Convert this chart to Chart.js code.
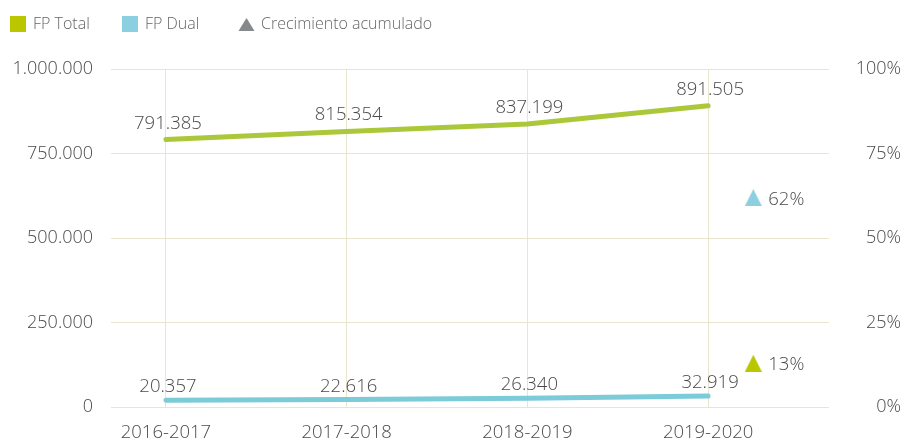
<!DOCTYPE html>
<html>
<head>
<meta charset="utf-8">
<script src="https://cdn.jsdelivr.net/npm/chart.js@4/dist/chart.umd.min.js"></script>
<style>
  html, body { margin: 0; padding: 0; background: #ffffff; }
  #wrap { width: 901px; height: 441px; position: relative; }
</style>
</head>
<body>
<div id="wrap"><canvas id="c" width="901" height="441"></canvas></div>
<script>
// ---- data ----
const categories = ['2016-2017', '2017-2018', '2018-2019', '2019-2020'];
const fpTotal = [791385, 815354, 837199, 891505];
const fpDual = [20357, 22616, 26340, 32919];
const growthLabels = ['FP Dual', 'FP Total'];
const growthValues = [62, 13];
const leftTicks = [0, 250000, 500000, 750000, 1000000];
const rightTicks = [0, 25, 50, 75, 100];
const legendNames = ['FP Total', 'FP Dual', 'Crecimiento acumulado'];

// ---- style ----
const FONT = "'Open Sans', 'Noto Sans', sans-serif";
const TEXT = '#4a4a4a';
const GREEN_LINE = '#abc83a';
const BLUE_LINE = '#7bcbd9';
const GREEN_MARK = '#b9c600';
const BLUE_MARK = '#8ccfe0';
const GRAY_MARK = '#86898c';
const GRID = '#e9e5cf';
const GROWTH_X = 3.25;

function fmtThousands(v) {
  return String(Math.round(v)).replace(/\B(?=(\d{3})+(?!\d))/g, '.');
}

function triangleImage(color) {
  const w = 17, h = 17;
  const cv = document.createElement('canvas');
  cv.width = w; cv.height = h;
  const c = cv.getContext('2d');
  c.fillStyle = color;
  c.beginPath();
  c.moveTo(w / 2, 0);
  c.lineTo(w, h);
  c.lineTo(0, h);
  c.closePath();
  c.fill();
  return cv;
}

const valueLabels = {
  id: 'valueLabels',
  afterDatasetsDraw(chart) {
    const ctx = chart.ctx;
    ctx.save();
    chart.data.datasets.forEach((ds, di) => {
      const meta = chart.getDatasetMeta(di);
      if (!ds.labelMode) return;
      ctx.fillStyle = TEXT;
      ctx.font = "300 18.5px " + FONT;
      meta.data.forEach((el, i) => {
        if (ds.labelMode === 'value') {
          ctx.textAlign = 'center';
          ctx.textBaseline = 'alphabetic';
          ctx.fillText(fmtThousands(ds.data[i].y), el.x + 2, el.y - ds.labelOffset);
        } else if (ds.labelMode === 'pct') {
          ctx.textAlign = 'left';
          ctx.textBaseline = 'middle';
          ctx.fillText(ds.data[i].y + '%', el.x + 15, el.y + 2);
        }
      });
    });
    ctx.restore();
  }
};

const customLegend = {
  id: 'customLegend',
  afterDraw(chart) {
    const ctx = chart.ctx;
    ctx.save();
    ctx.font = "300 16px " + FONT;
    ctx.textBaseline = 'middle';
    ctx.textAlign = 'left';
    const cy = 24;
    const tc = '#666666';
    ctx.fillStyle = GREEN_MARK;
    ctx.fillRect(10, 16, 16, 16);
    ctx.fillStyle = tc;
    ctx.fillText(legendNames[0], 33, cy);
    ctx.fillStyle = BLUE_MARK;
    ctx.fillRect(122, 16, 16, 16);
    ctx.fillStyle = tc;
    ctx.fillText(legendNames[1], 145, cy);
    ctx.fillStyle = GRAY_MARK;
    ctx.beginPath();
    ctx.moveTo(246.5, 18);
    ctx.lineTo(254.5, 31);
    ctx.lineTo(238.5, 31);
    ctx.closePath();
    ctx.fill();
    ctx.fillStyle = tc;
    ctx.fillText(legendNames[2], 261, cy);
    ctx.restore();
  }
};

const ctx = document.getElementById('c').getContext('2d');
new Chart(ctx, {
  type: 'line',
  data: {
    datasets: [
      {
        label: legendNames[0],
        data: fpTotal.map((v, i) => ({ x: i, y: v })),
        borderColor: GREEN_LINE,
        borderWidth: 5,
        borderCapStyle: 'round',
        pointRadius: 0,
        tension: 0,
        yAxisID: 'y',
        labelMode: 'value',
        labelOffset: 11
      },
      {
        label: legendNames[1],
        data: fpDual.map((v, i) => ({ x: i, y: v })),
        borderColor: BLUE_LINE,
        borderWidth: 5,
        borderCapStyle: 'round',
        pointRadius: 0,
        tension: 0,
        yAxisID: 'y',
        labelMode: 'value',
        labelOffset: 8
      },
      {
        label: legendNames[2],
        type: 'scatter',
        data: growthValues.map(v => ({ x: GROWTH_X, y: v })),
        showLine: false,
        pointStyle: [triangleImage(BLUE_MARK), triangleImage(GREEN_MARK)],
        pointRadius: 9,
        pointHoverRadius: 9,
        borderWidth: 0,
        pointBorderWidth: 0,
        backgroundColor: [BLUE_MARK, GREEN_MARK],
        yAxisID: 'y1',
        labelMode: 'pct'
      }
    ]
  },
  options: {
    responsive: false,
    animation: false,
    layout: { padding: { top: 69, left: 0, right: 0, bottom: 0 } },
    plugins: {
      legend: { display: false },
      tooltip: { enabled: false }
    },
    scales: {
      x: {
        type: 'linear',
        min: -0.304,
        max: 3.669,
        afterBuildTicks(scale) {
          scale.ticks = categories.map((c, i) => ({ value: i }));
        },
        afterFit(scale) { scale.height = 31; },
        border: { display: false },
        grid: { color: GRID, lineWidth: 1, drawTicks: false },
        ticks: {
          padding: 14,
          color: TEXT,
          font: { family: FONT, size: 18.5, weight: 300 },
          autoSkip: false,
          maxRotation: 0,
          callback: (v) => categories[v]
        }
      },
      y: {
        position: 'left',
        min: 0,
        max: 1000000,
        afterBuildTicks(scale) {
          scale.ticks = leftTicks.map(v => ({ value: v }));
        },
        afterFit(scale) { scale.width = 111; },
        border: { display: false },
        grid: { color: GRID, lineWidth: 1, drawTicks: false },
        ticks: {
          padding: 18,
          color: TEXT,
          font: { family: FONT, size: 18, weight: 300 },
          callback: (v) => fmtThousands(v)
        }
      },
      y1: {
        position: 'right',
        min: 0,
        max: 100,
        afterBuildTicks(scale) {
          scale.ticks = rightTicks.map(v => ({ value: v }));
        },
        afterFit(scale) { scale.width = 72; },
        border: { display: false },
        grid: { drawOnChartArea: false, drawTicks: false },
        ticks: {
          padding: 23,
          crossAlign: 'far',
          color: TEXT,
          font: { family: FONT, size: 18, weight: 300 },
          callback: (v) => v + '%'
        }
      }
    }
  },
  plugins: [valueLabels, customLegend]
});
</script>
</body>
</html>
